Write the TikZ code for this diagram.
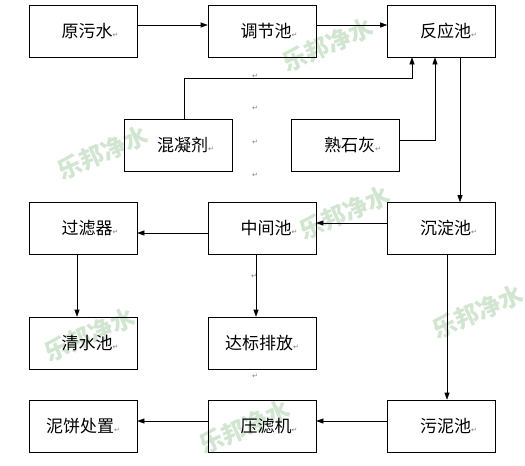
\documentclass[tikz,border=0pt]{standalone}
\usepackage{fontspec}
\setmainfont{Noto Sans CJK SC}
\newfontfamily\symfont{DejaVu Sans}
\usetikzlibrary{arrows.meta}
\newcommand{\parmk}{{\symfont\fontsize{7}{7}\selectfont\color{gray}↵}}
\begin{document}
\begin{tikzpicture}[x=1pt,y=-1pt,
  box/.style={draw, line width=0.6pt, minimum width=108pt, minimum height=52pt, inner sep=0pt, font=\fontsize{17}{17}\selectfont},
  flow/.style={draw, line width=0.6pt, -{Triangle[length=7pt,width=5pt]}},
  wm/.style={text=green!45!black, opacity=0.18, font=\fontsize{24}{24}\selectfont\bfseries, rotate=24},
  pmark/.style={inner sep=0pt}]
\useasboundingbox (0,0) rectangle (525,466);
\fill[white] (0,0) rectangle (525,466);
% watermarks
\node[wm] (w1) at (328,45) {乐邦净水};
\node[wm] (w2) at (103,153) {乐邦净水};
\node[wm] (w3) at (345,213) {乐邦净水};
\node[wm] (w4) at (478,312) {乐邦净水};
\node[wm] (w5) at (90,335) {乐邦净水};
\node[wm] (w6) at (245,427) {乐邦净水};
% boxes
\node[box] (a) at (83,31) {\hspace*{14pt}原污水\parmk};
\node[box] (b) at (262,31) {\hspace*{14pt}调节池\parmk};
\node[box] (c) at (441.5,31) {\hspace*{14pt}反应池\parmk};
\node[box] (d) at (178.5,145) {\hspace*{14pt}混凝剂\parmk};
\node[box] (e) at (345.5,145) {\hspace*{14pt}熟石灰\parmk};
\node[box] (f) at (83,228.5) {\hspace*{14pt}过滤器\parmk};
\node[box] (g) at (262,228.5) {\hspace*{14pt}中间池\parmk};
\node[box] (h) at (441.5,228.5) {\hspace*{14pt}沉淀池\parmk};
\node[box] (i) at (83,343) {\hspace*{14pt}清水池\parmk};
\node[box] (j) at (262,343) {达标排放\parmk};
\node[box] (k) at (83,426) {泥饼处置\parmk};
\node[box] (l) at (262,426) {\hspace*{14pt}压滤机\parmk};
\node[box] (m) at (441.5,426) {\hspace*{14pt}污泥池\parmk};
% stray paragraph marks
\node[pmark] (p1) at (255,76) {\parmk};
\node[pmark] (p2) at (255,108) {\parmk};
\node[pmark] (p3) at (255,142) {\parmk};
\node[pmark] (p4) at (255,175) {\parmk};
\node[pmark] (p5) at (254,276) {\parmk};
\node[pmark] (p6) at (255,376) {\parmk};
% connectors
\draw[flow] (a.east |- 0,25) -- (b.west |- 0,25);
\draw[flow] (b.east |- 0,25) -- (c.west |- 0,25);
\coordinate (d1) at (184,78);
\coordinate (d2) at (412,78);
\draw[flow] (d.north -| d1) -- (d1) -- (d2) -- (d2 |- c.south);
\coordinate (e1) at (435,140);
\draw[flow] (e.east |- e1) -- (e1) -- (e1 |- c.south);
\draw[flow] (c.south -| 460,0) -- (h.north -| 460,0);
\draw[flow] (h.west |- 0,223) -- (g.east |- 0,223);
\draw[flow] (g.west |- 0,233) -- (f.east |- 0,233);
\draw[flow] (f.south -| 77,0) -- (i.north -| 77,0);
\draw[flow] (g.south -| 256,0) -- (j.north -| 256,0);
\draw[flow] (h.south -| 447,0) -- (m.north -| 447,0);
\draw[flow] (m.west |- 0,421) -- (l.east |- 0,421);
\draw[flow] (l.west |- 0,421) -- (k.east |- 0,421);
\end{tikzpicture}
\end{document}
